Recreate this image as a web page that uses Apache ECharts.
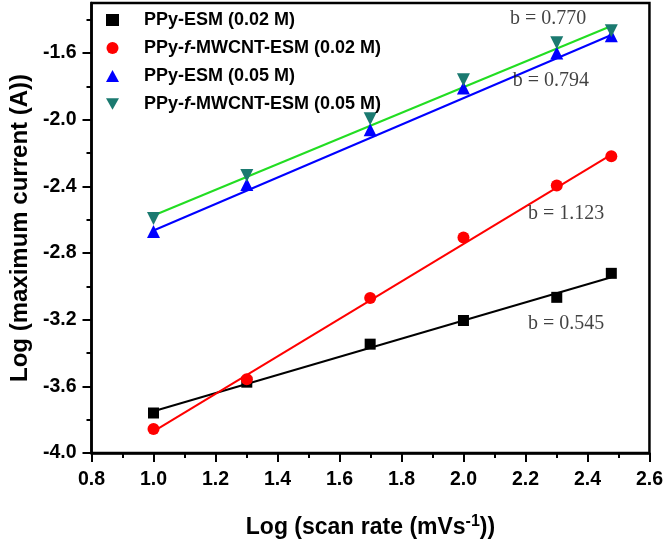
<!DOCTYPE html>
<html><head><meta charset="utf-8">
<script src="https://cdn.jsdelivr.net/npm/echarts@6/dist/echarts.min.js"></script>
<style>html,body{margin:0;padding:0;background:#fff}#c{width:666px;height:546px}</style>
</head><body><div id="c"></div>
<script>
// ---- data ----
const logScanRate = [1.0, 1.301, 1.699, 2.0, 2.301, 2.477];
const ppyEsm002 = [-3.76, -3.575, -3.347, -3.205, -3.066, -2.922];
const ppyMwcnt002 = [-3.856, -3.557, -3.07, -2.707, -2.395, -2.22];
const ppyEsm005 = [-2.671, -2.389, -2.06, -1.81, -1.60, -1.497];
const ppyMwcnt005 = [-2.593, -2.335, -1.994, -1.76, -1.539, -1.467];
const seriesNames = ['PPy-ESM (0.02 M)', 'PPy-f-MWCNT-ESM (0.02 M)', 'PPy-ESM (0.05 M)', 'PPy-f-MWCNT-ESM (0.05 M)'];
const fitX = [1.0, 2.477];
const fitEsm002 = [-3.75, -2.945];
const fitMwcnt002 = [-3.87, -2.21];
const fitEsm005 = [-2.665, -1.492];
const fitMwcnt005 = [-2.575, -1.438];
const slopeLabels = ['b = 0.545', 'b = 1.123', 'b = 0.794', 'b = 0.770'];
const slopeLabelPos = [[2.331, -3.222], [2.331, -2.563], [2.282, -1.767], [2.273, -1.395]];
const xMajorTicks = [0.8, 1.0, 1.2, 1.4, 1.6, 1.8, 2.0, 2.2, 2.4, 2.6];
const xMinorTicks = [0.9, 1.1, 1.3, 1.5, 1.7, 1.9, 2.1, 2.3, 2.5];
const yMajorTicks = [-4.0, -3.6, -3.2, -2.8, -2.4, -2.0, -1.6];
const yMinorTicks = [-3.8, -3.4, -3.0, -2.6, -2.2, -1.8, -1.4];

// ---- chart ----
const FONT = 'Liberation Sans';
const chart = echarts.init(document.getElementById('c'), null, {renderer: 'canvas'});
const pts = arr => logScanRate.map((x, i) => [x, arr[i]]);
const fit = arr => fitX.map((x, i) => [x, arr[i]]);
const colors = ['#000000', '#ff0000', '#0000ff', '#1b7a70'];
const fitColors = ['#000000', '#ff0000', '#0000ff', '#22dd22'];
const symbols = ['rect', 'circle', 'triangle', 'triangle'];
const legendIcons = ['rect', 'circle', 'triangle', 'path://M0,0L10,0L5,9Z'];
const symbolSizes = [11, 12, 13, 13];
const rotations = [0, 0, 0, 180];
const valueSets = [ppyEsm002, ppyMwcnt002, ppyEsm005, ppyMwcnt005];
const fitSets = [fitEsm002, fitMwcnt002, fitEsm005, fitMwcnt005];

const series = [];
fitSets.forEach((f, i) => {
  series.push({
    name: 'fit' + i, type: 'line', data: fit(f), symbol: 'none', silent: true,
    lineStyle: {color: fitColors[i], width: 2}, z: 2
  });
});
valueSets.forEach((v, i) => {
  series.push({
    name: seriesNames[i], type: 'scatter', data: pts(v), symbol: symbols[i],
    symbolSize: symbolSizes[i], symbolRotate: rotations[i],
    itemStyle: {color: colors[i], opacity: 1}, z: 3
  });
});
series.push({
  name: 'slopes', type: 'scatter', data: slopeLabelPos, symbolSize: 0, silent: true, z: 4,
  label: {show: true, position: 'inside', formatter: p => slopeLabels[p.dataIndex],
    fontFamily: 'Liberation Serif', fontSize: 20, color: '#111'}
});

const tickFmt = v => Number(v).toFixed(1);
chart.setOption({
  animation: false,
  backgroundColor: '#fff',
  grid: {left: 90, right: 16, top: 3, bottom: 93, show: true, borderColor: '#000', borderWidth: 2.5},
  legend: {
    data: seriesNames.map((n, i) => ({name: n, icon: legendIcons[i], itemStyle: {color: colors[i]}})),
    orient: 'vertical', left: 101, top: 6, itemWidth: 13, itemHeight: 12, itemGap: 10,
    symbolRotate: 0,
    formatter: n => n.replace('-f-', '-{i|f}-'),
    textStyle: {fontFamily: FONT, fontWeight: 'bold', fontSize: 18, color: '#000', padding: [0, 0, 0, 20],
      rich: {i: {fontFamily: FONT, fontWeight: 'bold', fontStyle: 'italic', fontSize: 18, color: '#000'}}}
  },
  xAxis: [{
    type: 'value', min: 0.8, max: 2.6, position: 'bottom',
    axisLine: {show: true, lineStyle: {color: '#000', width: 2.5}},
    axisTick: {show: true, customValues: xMajorTicks, length: 9, lineStyle: {color: '#000', width: 2}},
    axisLabel: {customValues: xMajorTicks, formatter: tickFmt, margin: 17, fontFamily: FONT, fontWeight: 'bold', fontSize: 19.5, color: '#000'},
    splitLine: {show: false},
    name: 'Log (scan rate (mVs{sup|-1}))', nameLocation: 'middle', nameGap: 61,
    nameTextStyle: {fontFamily: FONT, fontWeight: 'bold', fontSize: 23, color: '#000',
      rich: {sup: {fontFamily: FONT, fontWeight: 'bold', fontSize: 16, color: '#000', verticalAlign: 'top', padding: [0, 0, 12, 0]}}}
  }, {
    type: 'value', min: 0.8, max: 2.6, position: 'bottom',
    axisLine: {show: false},
    axisTick: {show: true, customValues: xMinorTicks, length: 5, lineStyle: {color: '#000', width: 2}},
    axisLabel: {show: false}, splitLine: {show: false}
  }],
  yAxis: [{
    type: 'value', min: -4.0, max: -1.3, position: 'left',
    axisLine: {show: true, lineStyle: {color: '#000', width: 2.5}},
    axisTick: {show: true, customValues: yMajorTicks, length: 9, lineStyle: {color: '#000', width: 2}},
    axisLabel: {customValues: yMajorTicks, formatter: tickFmt, margin: 15, fontFamily: FONT, fontWeight: 'bold', fontSize: 19.5, color: '#000'},
    splitLine: {show: false},
    name: 'Log (maximum current (A))', nameLocation: 'middle', nameGap: 57, nameRotate: 90,
    nameTextStyle: {fontFamily: FONT, fontWeight: 'bold', fontSize: 24, color: '#000'}
  }, {
    type: 'value', min: -4.0, max: -1.3, position: 'left',
    axisLine: {show: false},
    axisTick: {show: true, customValues: yMinorTicks, length: 5, lineStyle: {color: '#000', width: 2}},
    axisLabel: {show: false}, splitLine: {show: false}
  }],
  series: series
});
</script></body></html>
